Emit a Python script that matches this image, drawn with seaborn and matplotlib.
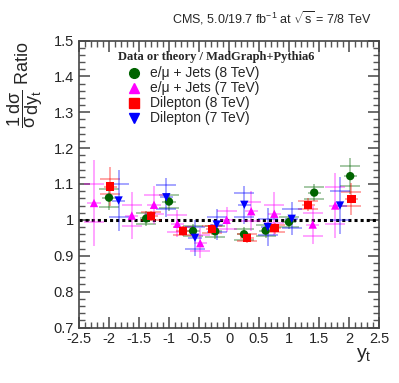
import matplotlib
matplotlib.use("Agg")
import matplotlib.pyplot as plt
from matplotlib.ticker import MultipleLocator
import seaborn as sns
import pandas as pd

sns.set_style("ticks")
plt.rcParams['font.family'] = ['Liberation Sans', 'DejaVu Sans']
plt.rcParams['mathtext.fontset'] = 'custom'
plt.rcParams['mathtext.rm'] = 'Liberation Sans'
plt.rcParams['mathtext.it'] = 'Liberation Sans'

# e/mu + jets (8 TeV)
ljets8_x = [-2.0, -1.38, -1.0, -0.6, -0.23, 0.25, 0.61, 1.0, 1.42, 2.02]
ljets8_y = [1.062, 1.004, 1.051, 0.969, 0.968, 0.960, 0.970, 0.994, 1.076, 1.122]
ljets8_tot = [0.035, 0.02, 0.025, 0.02, 0.02, 0.02, 0.02, 0.02, 0.024, 0.05]
ljets8_stat = [0.025, 0.015, 0.017, 0.015, 0.015, 0.015, 0.015, 0.015, 0.017, 0.028]

# e/mu + jets (7 TeV)
ljets7_x = [-2.25, -1.62, -1.25, -0.86, -0.48, -0.04, 0.37, 0.755, 1.395, 1.77]
ljets7_y = [1.047, 1.012, 1.042, 0.989, 0.935, 1.0, 1.024, 1.017, 0.987, 1.040]
ljets7_tot = [0.12, 0.065, 0.053, 0.038, 0.042, 0.035, 0.056, 0.06, 0.053, 0.09]
ljets7_stat = [0.053, 0.03, 0.026, 0.024, 0.022, 0.025, 0.027, 0.025, 0.032, 0.051]

# Dilepton (8 TeV)
dil8_x = [-1.98, -1.30, -0.77, -0.28, 0.30, 0.76, 1.32, 2.04]
dil8_y = [1.093, 1.011, 0.969, 0.974, 0.950, 0.977, 1.042, 1.059]
dil8_tot = [0.055, 0.015, 0.015, 0.015, 0.015, 0.015, 0.018, 0.045]
dil8_stat = [0.022, 0.01, 0.01, 0.01, 0.01, 0.01, 0.012, 0.02]

# Dilepton (7 TeV)
dil7_x = [-1.84, -1.045, -0.567, -0.205, 0.255, 0.645, 1.045, 1.85]
dil7_y = [1.054, 1.063, 0.950, 0.987, 1.042, 0.98, 1.003, 1.04]
dil7_tot = [0.085, 0.055, 0.05, 0.043, 0.053, 0.053, 0.046, 0.08]
dil7_stat = [0.045, 0.034, 0.031, 0.02, 0.033, 0.022, 0.027, 0.04]

series = [
    ("e/\u03bc + Jets (8 TeV)", ljets8_x, ljets8_y, ljets8_tot, ljets8_stat, "#006400", "o"),
    ("e/\u03bc + Jets (7 TeV)", ljets7_x, ljets7_y, ljets7_tot, ljets7_stat, "#ff00ff", "^"),
    ("Dilepton (8 TeV)", dil8_x, dil8_y, dil8_tot, dil8_stat, "#ff0000", "s"),
    ("Dilepton (7 TeV)", dil7_x, dil7_y, dil7_tot, dil7_stat, "#0000ff", "v"),
]

fig = plt.figure(figsize=(3.99, 3.83), dpi=100)
ax = fig.add_axes([79/399, 1-327.5/383, 300/399, 287/383])

ax.axhline(1.0, color="black", ls=(0, (1, 1)), lw=2.2, zorder=1)

frames = []
for name, xs, ys, tot, stat, col, mk in series:
    ax.errorbar(xs, ys, yerr=tot, fmt="none", ecolor=col, elinewidth=1.1,
                alpha=0.45, capsize=0, zorder=2)
    ax.errorbar(xs, ys, yerr=stat, fmt="none", ecolor=col, elinewidth=0,
                alpha=0.45, capsize=7, capthick=1.1, zorder=2)
    ax.errorbar(xs, ys, xerr=0.11, fmt="none", ecolor=col, elinewidth=1.1,
                alpha=0.45, capsize=0, zorder=2)
    frames.append(pd.DataFrame({"x": xs, "y": ys, "series": name}))

df = pd.concat(frames, ignore_index=True)
names = [s[0] for s in series]
palette = {s[0]: s[5] for s in series}
markers = {s[0]: s[6] for s in series}
sns.scatterplot(data=df, x="x", y="y", hue="series", style="series",
                hue_order=names, style_order=names, palette=palette,
                markers=markers, s=36, edgecolor="none", linewidth=0,
                ax=ax, zorder=3, legend=False)

ax.set_xlim(-2.5, 2.5)
ax.set_ylim(0.7, 1.5)
ax.xaxis.set_minor_locator(MultipleLocator(0.1))
ax.yaxis.set_minor_locator(MultipleLocator(0.02))
ax.tick_params(which="both", direction="in", top=True, right=True, color="#555555")
ax.tick_params(which="major", length=8, width=1.2, labelsize=10.5)
ax.tick_params(which="minor", length=4, width=1.0)
ax.set_xticks([-2.5, -2, -1.5, -1, -0.5, 0, 0.5, 1, 1.5, 2, 2.5])
ax.set_xticklabels(["-2.5", "-2", "-1.5", "-1", "-0.5", "0", "0.5", "1", "1.5", "2", "2.5"])
ax.set_yticks([0.7, 0.8, 0.9, 1.0, 1.1, 1.2, 1.3, 1.4, 1.5])
ax.set_yticklabels(["0.7", "0.8", "0.9", "1", "1.1", "1.2", "1.3", "1.4", "1.5"])
for sp in ax.spines.values():
    sp.set_linewidth(1.2)
    sp.set_color("#444444")
ax.set_xlabel("")
ax.set_ylabel("")

# legend
fig.text(118/399, 1-57/383, "Data or theory / MadGraph+Pythia6",
         fontfamily="Liberation Serif", fontweight="bold", fontsize=9,
         va="center", ha="left")
leg_y = [73, 88, 103, 118]
for (name, xs, ys, tot, stat, col, mk), py in zip(series, leg_y):
    fig.lines.append(plt.Line2D([134/399], [1-py/383], marker=mk, color=col,
                                markersize=7, ls="none", transform=fig.transFigure))
    fig.text(150/399, 1-py/383, name, fontsize=10, va="center", ha="left")

fig.text(372/399, 1-18/383, "CMS, 5.0/19.7 fb$^{-1}$ at $\\sqrt{s}$ = 7/8 TeV",
         fontsize=9, ha="right", va="center")
fig.text(372/399, 1-355/383, "y$_{\\mathregular{t}}$", fontsize=14, ha="right", va="center")
fig.text(25/399, 1-85/383, "$\\dfrac{1}{\\sigma}\\dfrac{d\\sigma}{dy_{t}}$ Ratio",
         fontsize=13, rotation=90, ha="center", va="center")

fig.savefig("out.png", dpi=100)
